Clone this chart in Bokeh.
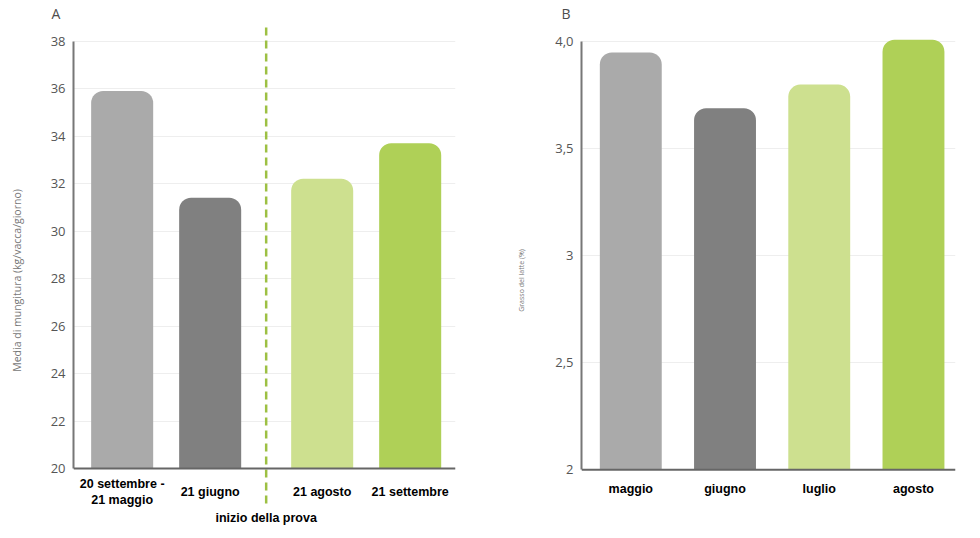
from bokeh.plotting import figure, ColumnDataSource
from bokeh.models import Range1d, FixedTicker, Span
from bokeh.core.properties import value
from bokeh.layouts import row
from bokeh.embed import file_html
from bokeh.resources import INLINE

# ---- data ----
a_labels = ["20 settembre -\n21 maggio", "21 giugno", "21 agosto", "21 settembre"]
a_values = [35.9, 31.4, 32.2, 33.7]
a_colors = ["#aaaaaa", "#808080", "#cde08f", "#afd057"]
a_yticks = [20, 22, 24, 26, 28, 30, 32, 34, 36, 38]
a_divider_text = "inizio della prova"

b_labels = ["maggio", "giugno", "luglio", "agosto"]
b_values = [3.95, 3.69, 3.80, 4.01]
b_colors = ["#aaaaaa", "#808080", "#cde08f", "#afd057"]
b_yticks = [2, 2.5, 3, 3.5, 4]
b_yticklabels = ["2", "2,5", "3", "3,5", "4,0"]

TICK_FONT = "Open Sans"
CAT_FONT = "Liberation Sans"


def style_common(p, title, offset, yticks, bounds, ylabel, ylabel_size, ylabel_standoff):
    p.outline_line_color = None
    p.title.text = title
    p.title.align = "left"
    p.title.offset = offset
    p.title.standoff = 3
    p.title.text_font = TICK_FONT
    p.title.text_font_size = "14px"
    p.title.text_font_style = "normal"
    p.title.text_color = "#4d4d4d"
    p.xgrid.visible = False
    p.ygrid.grid_line_color = "#eeeeee"
    p.ygrid.ticker = FixedTicker(ticks=yticks)
    p.yaxis.ticker = FixedTicker(ticks=yticks)
    p.yaxis.bounds = bounds
    p.yaxis.axis_line_color = "#777777"
    p.yaxis.axis_line_width = 2
    p.yaxis.major_tick_line_color = None
    p.yaxis.minor_tick_line_color = None
    p.yaxis.major_label_text_font = TICK_FONT
    p.yaxis.major_label_text_font_size = "13px"
    p.yaxis.major_label_text_color = "#555555"
    p.yaxis.major_label_standoff = 2
    p.yaxis.axis_label = ylabel
    p.yaxis.axis_label_text_font = TICK_FONT
    p.yaxis.axis_label_text_font_size = ylabel_size
    p.yaxis.axis_label_text_font_style = "normal"
    p.yaxis.axis_label_text_color = "#777777"
    p.yaxis.axis_label_standoff = ylabel_standoff
    # baseline (x axis line)
    p.add_layout(Span(location=bounds[0], dimension="width", line_color="#666666", line_width=2))


# ---- panel A ----
PX_A = 23.75          # pixels per y unit (layout constant)
gap = 0.273
a_x = [i + (gap if i >= 2 else 0) for i in range(len(a_values))]

p1 = figure(width=488, height=536, output_backend="svg", toolbar_location=None,
            x_range=Range1d(-0.553, 3.788), y_range=Range1d(17.137, 38.695),
            x_axis_location=None,
            min_border_left=73, min_border_right=33, min_border_top=24, min_border_bottom=0)
p1.vbar(x=a_x, top=a_values, bottom=20, width=0.705, fill_color=a_colors,
        line_color=None, border_radius=(12, 12, 0, 0))
style_common(p1, "A", -22, a_yticks, (20, 38), "Media di mungitura (kg/vacca/giorno)", "10.5px", 24)

src_a = ColumnDataSource(dict(x=a_x, y=[20 - 23.5 / PX_A] * len(a_x), t=a_labels))
p1.text(x="x", y="y", text="t", source=src_a, text_align="center", text_baseline="middle",
        text_font=value(CAT_FONT), text_font_style="bold", text_font_size="12.5px",
        text_color="#000000", text_line_height=1.15)

divider = (a_x[1] + a_x[2]) / 2
p1.segment(x0=[divider], y0=[20 - 35 / PX_A], x1=[divider], y1=[38.695],
           line_color="#9dc043", line_width=2.5, line_dash="8 5")
p1.text(x=[divider], y=[20 - 49 / PX_A], text=[a_divider_text], text_align="center",
        text_baseline="middle", text_font=value(CAT_FONT), text_font_style="bold",
        text_font_size="12.5px", text_color="#000000")

# ---- panel B ----
PX_B = 213.7          # pixels per y unit (layout constant)
b_x = list(range(len(b_values)))
p2 = figure(width=484, height=536, output_backend="svg", toolbar_location=None,
            x_range=Range1d(-0.523, 3.446), y_range=Range1d(1.688, 4.081),
            x_axis_location=None,
            min_border_left=93, min_border_right=17, min_border_top=24, min_border_bottom=0)
p2.vbar(x=b_x, top=b_values, bottom=2, width=0.657, fill_color=b_colors,
        line_color=None, border_radius=(12, 12, 0, 0))
style_common(p2, "B", -20, b_yticks, (2, 4), "Grasso del latte (%)", "7px", 26)
p2.yaxis.major_label_overrides = {t: l for t, l in zip(b_yticks, b_yticklabels)}

src_b = ColumnDataSource(dict(x=b_x, y=[2 - 19.7 / PX_B] * len(b_x), t=b_labels))
p2.text(x="x", y="y", text="t", source=src_b, text_align="center", text_baseline="middle",
        text_font=value(CAT_FONT), text_font_style="bold", text_font_size="12.5px",
        text_color="#000000")

layout = row(p1, p2)
open("out.html", "w").write(file_html(layout, INLINE))
